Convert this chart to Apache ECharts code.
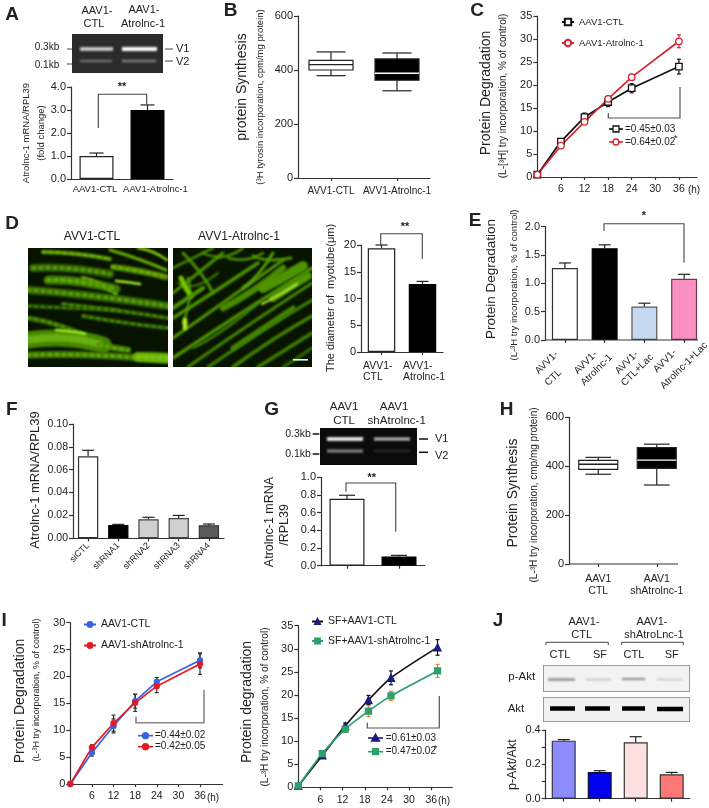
<!DOCTYPE html>
<html><head><meta charset="utf-8">
<style>html,body{margin:0;padding:0;background:#fff}#c{width:709px;height:808px;filter:blur(0.4px)}</style>
<script src="https://cdn.jsdelivr.net/npm/echarts@6/dist/echarts.min.js"></script>
</head><body><div id="c"></div>
<script>
// ---------- DATA ----------
const aCats=['AAV1-CTL','AAV1-Atrolnc-1'], aVals=[1.0,3.0], aTops=[1.13,3.22];
const bCats=['AVV1-CTL','AVV1-Atrolnc-1'];
const bBox=[[379,400,420,436,467],[323,362,388,441,463]];
const cHours=[0,6,12,18,24,36];
const cCtl=[0.5,7.7,13,16.3,19.3,24], cCtlErr=[0.2,0.4,0.9,1,1,1.6];
const cAtro=[0.5,6.8,12,17,21.7,29.5], cAtroErr=[0.2,0.3,0.5,0.7,0.6,1.4];
const dCats=['AVV1-\nCTL','AVV1-\nAtrolnc-1'], dVals=[19.4,12.7], dTops=[20,13.2];
const eCats=['AVV1-\nCTL','AVV1-\nAtrolnc-1','AVV1-\nCTL+Lac','AVV1-\nAtrolnc-1+Lac'];
const eVals=[1.27,1.62,0.59,1.08], eTops=[1.36,1.68,0.65,1.16];
const fCats=['siCTL','shRNA1','shRNA2','shRNA3','shRNA4'];
const fVals=[0.0717,0.0117,0.0166,0.0178,0.0114], fTops=[0.077,0.0122,0.0184,0.02,0.0125];
const gVals=[0.758,0.105], gTops=[0.797,0.117];
const hCats=['AAV1\nCTL','AAV1\nshAtrolnc-1'];
const hBox=[[367,387,408,424,436],[323,391,425,476,490]];
const iHours=[0,6,12,18,24,36];
const iCtl=[0,5.8,10.8,15.4,19,23], iCtlErr=[0,0.6,1.3,1.3,0.8,1.4];
const iSh=[0,6.8,11.3,15.1,18.2,22.3], iShErr=[0,0.5,1.5,1.6,1.2,1.9];
const i2Hours=[0,6.5,12.7,19,25.1,37.7];
const i2Ctl=[0.3,6.9,13.3,18.9,23.7,30.3], i2CtlErr=[0,0.5,0.6,1,1.5,1.7];
const i2Sh=[0.3,7.3,12.6,16.5,19.8,25.2], i2ShErr=[0,0.5,0.7,1.2,1,1.4];
const jCats=['','','',''], jVals=[0.338,0.155,0.328,0.142], jTops=[0.344,0.163,0.361,0.153];

// ---------- STYLE ----------
const FONT='"Liberation Sans",Arial,sans-serif', INK='#222';
const grids=[],xAxes=[],yAxes=[],series=[],legends=[],G=[];
const axisLine={lineStyle:{color:'#333',width:1.2}};
const axisTick={length:3,lineStyle:{color:'#333',width:1.2}};

function T(x,y,text,o={}){G.push({type:'text',x,y,rotation:o.deg?o.deg*Math.PI/180:(o.rot?Math.PI/2:0),silent:true,z:20,
 style:{text,fontSize:o.size||11,fontWeight:o.bold?'bold':'normal',fontFamily:FONT,fill:o.color||INK,
 textAlign:o.align||'center',textVerticalAlign:'middle'}});}
function P(points,o={}){G.push({type:'polyline',silent:true,z:o.z||15,shape:{points},
 style:{stroke:o.color||'#444',lineWidth:o.w||1,fill:null}});}
function paint(w,h,fn){const cv=document.createElement('canvas');cv.width=w;cv.height=h;fn(cv.getContext('2d'),w,h);return cv;}
function IMG(x,y,w,h,fn){G.push({type:'image',x,y,silent:true,z:5,style:{image:paint(w,h,fn),x:0,y:0,width:w,height:h}});}
function gelBand(c,x1,x2,y,t,col,b){c.save();c.filter='blur('+b+'px)';c.fillStyle=col;c.fillRect(x1,y-t/2,x2-x1,t);c.restore();}
function statIcon(x0,x1,y,color,kind,fill){
 P([[x0,y],[x1,y]],{color,w:1.6,z:16});const m=(x0+x1)/2;let el;
 const style={fill:fill,stroke:color,lineWidth:1.3};
 if(kind==='rect')el={type:'rect',shape:{x:m-3,y:y-3,width:6,height:6},style};
 if(kind==='circle')el={type:'circle',shape:{cx:m,cy:y,r:3},style};
 if(kind==='tri')el={type:'polygon',shape:{points:[[m,y-4],[m-4,y+3],[m+4,y+3]]},style};
 el.z=17;el.silent=true;G.push(el);}

function addGrid(left,top,width,height){grids.push({left,top,width,height,containLabel:false});return grids.length-1;}
function yAxis(g,max,interval,fmt,size,labelVals){const a={type:'value',gridIndex:g,min:0,max,interval,splitLine:{show:false},axisLine:{show:true,...axisLine},axisTick:{show:true,...axisTick,length:4},
 axisLabel:{fontSize:size||10.5,color:INK,margin:5,fontFamily:FONT,formatter:fmt}};
 if(labelVals)a.axisLabel.customValues=labelVals;yAxes.push(a);}
function catAxis(g,cats,o={}){xAxes.push({type:'category',gridIndex:g,data:cats,axisLine:{show:o.hideLine?false:true,...axisLine},
 axisTick:{show:o.ticks!==false,alignWithLabel:true,...axisTick},
 axisLabel:{show:o.labels!==false,interval:0,fontSize:o.size||9.5,color:INK,margin:o.margin||5,rotate:o.rotate||0,lineHeight:o.lh||12,fontFamily:FONT}});}
const o_z=4;
function errSeries(g,rows,color,cap,lw){series.push({type:'custom',name:'err'+series.length,xAxisIndex:g,yAxisIndex:g,z:o_z,clip:false,silent:true,
 data:rows,encode:{x:0,y:[1,2]},renderItem(p,api){const x=api.value(0),lo=api.coord([x,api.value(1)]),hi=api.coord([x,api.value(2)]);
  const st={stroke:color,lineWidth:lw||1.2,fill:null};
  return {type:'group',children:[
   {type:'line',shape:{x1:lo[0],y1:lo[1],x2:hi[0],y2:hi[1]},style:st},
   {type:'line',shape:{x1:hi[0]-cap,y1:hi[1],x2:hi[0]+cap,y2:hi[1]},style:st},
   ...(lo[1]-hi[1]>0&&rows[p.dataIndex][3]?[{type:'line',shape:{x1:lo[0]-cap,y1:lo[1],x2:lo[0]+cap,y2:lo[1]},style:st}]:[])]};}});}
function barPanel(g,vals,tops,fills,borders,bw,cap){
 series.push({type:'bar',xAxisIndex:g,yAxisIndex:g,barWidth:bw,silent:true,z:2,
  data:vals.map((v,i)=>({value:v,itemStyle:{color:fills[i],borderColor:borders[i],borderWidth:1.2}}))});
 errSeries(g,vals.map((v,i)=>[i,v,tops[i],0]),'#222',cap);}
function boxPanel(g,rows,fills,medians,bw){
 series.push({type:'custom',xAxisIndex:g,yAxisIndex:g,silent:true,z:3,clip:false,
  data:rows.map((r,i)=>[i,...r]),encode:{x:0,y:[1,2,3,4,5]},
  renderItem(p,api){const i=api.value(0),c=k=>api.coord([i,api.value(k)]),x=c(1)[0],h=bw/2,cap=bw*0.33;
   const low=c(1)[1],q1=c(2)[1],med=c(3)[1],q3=c(4)[1],up=c(5)[1];
   const line={stroke:'#333',lineWidth:1.3,fill:null};
   return {type:'group',children:[
    {type:'line',shape:{x1:x,y1:low,x2:x,y2:q1},style:line},{type:'line',shape:{x1:x,y1:q3,x2:x,y2:up},style:line},
    {type:'line',shape:{x1:x-cap,y1:low,x2:x+cap,y2:low},style:line},{type:'line',shape:{x1:x-cap,y1:up,x2:x+cap,y2:up},style:line},
    {type:'rect',shape:{x:x-h,y:q3,width:bw,height:q1-q3},style:{fill:fills[i],stroke:'#222',lineWidth:1.2}},
    {type:'line',shape:{x1:x-h,y1:med,x2:x+h,y2:med},style:{stroke:medians[i],lineWidth:1.3}}]};}});}
function timeAxes(g,xMax,yMax){
 const h=[6,12,18,24,30,36];
 xAxes.push({type:'value',gridIndex:g,min:0,max:xMax,splitLine:{show:false},axisLine:{show:true,...axisLine},
  axisTick:{show:true,...axisTick,customValues:h},axisLabel:{customValues:h,fontSize:10.5,color:INK,margin:7,fontFamily:FONT}});
 yAxis(g,yMax,5,v=>String(v),11);}
function linePanel(g,name,hours,vals,errs,lineColor,symbol,size,fill,border,errColor,smooth,cap){
 errSeries(g,hours.map((h,i)=>[h,vals[i]-errs[i],vals[i]+errs[i],1]),errColor,cap||2);
 series.push({type:'line',name,xAxisIndex:g,yAxisIndex:g,data:hours.map((h,i)=>[h,vals[i]]),silent:true,z:5,symbol,symbolSize:size,smooth:smooth||false,
  lineStyle:{color:lineColor,width:1.7},itemStyle:{color:fill,borderColor:border,borderWidth:1.3}});}
const f1=v=>v.toFixed(1), f2=v=>v.toFixed(2), f0=v=>String(v);

// ---------- PANEL A ----------
let g=addGrid(71,87,102,92);
catAxis(g,['',''],{ticks:false,labels:false});yAxis(g,4,1,f1,11);
barPanel(g,aVals,aTops,['#fff','#000'],['#222','#000'],34,7);
T(95,189,aCats[0],{size:9.5});T(155.5,189,aCats[1],{size:9.5});
T(12,15,'A',{size:19,bold:true});
T(97,11,'AAV1-');T(94,24,'CTL');T(144,10,'AAV1-');T(143,24,'Atrolnc-1');
IMG(72,34,91,39,(c,w,h)=>{c.fillStyle='#2b2b2b';c.fillRect(0,0,w,h);gelBand(c,8,41,15,3.5,'#d8d8d8',1);gelBand(c,50,85,15,4,'#ffffff',0.8);gelBand(c,8,40,27,2.5,'#6f6f6f',1);gelBand(c,50,84,27,2.5,'#7c7c7c',1);});
P([[67,49],[72,49]]);P([[67,64],[72,64]]);P([[165,49],[173,49]]);P([[165,61],[173,61]]);
T(47,47,'0.3kb',{size:10});T(47,65,'0.1kb',{size:10});T(176,49,'V1',{align:'left',size:11});T(176,62,'V2',{align:'left',size:11});
P([[98.3,128],[98.3,94.3],[146.7,94.3],[146.7,104]],{w:1.1});T(122,87,'**',{size:11,bold:true});
T(26,133,'Atrolnc-1 mRNA/RPL39',{rot:1,size:9.5});T(41,133,'(fold change)',{rot:1,size:9.5});

// ---------- PANEL B ----------
g=addGrid(298,16,132,162);
catAxis(g,bCats,{size:10,margin:7});yAxis(g,600,200,f0,11);
boxPanel(g,bBox,['#fff','#000'],['#222','#fff'],44);
T(230.5,11,'B',{size:19,bold:true});
T(242,87,'protein Synthesis',{rot:1,size:14});T(260,97,'(³H tyrosin incorporation, cpm/mg protein)',{rot:1,size:9.5});

// ---------- PANEL C ----------
g=addGrid(537.3,16,159.7,161);
timeAxes(g,40.6,35);
linePanel(g,'AAV1-CTL',cHours,cCtl,cCtlErr,'#111','rect',6.5,'#fff','#111','#111');
linePanel(g,'AAV1-Atrolnc-1',cHours,cAtro,cAtroErr,'#d8222f','circle',6.5,'#fff','#d8222f','#d8222f');
legends.push({data:['AAV1-CTL','AAV1-Atrolnc-1'],orient:'vertical',left:561,top:17,itemWidth:12,itemHeight:8,itemGap:11,padding:0,textStyle:{fontSize:9.5,color:INK,fontFamily:FONT},selectedMode:false});
T(477,11,'C',{size:19,bold:true});
T(486,93,'Protein Degradation',{rot:1,size:14});T(503,96,'(L-[³H] try incorporation, % of control)',{rot:1,size:10});
T(694,190,'(h)',{size:10});
P([[608.3,113],[608.3,118],[680,118],[680,87]],{color:'#555',w:1.2});
statIcon(609,623,129,'#111','rect','#fff');statIcon(609,623,142,'#d8222f','circle','#fff');
T(625,129,'=0.45±0.03',{align:'left',size:10});T(625,142,'=0.64±0.02',{align:'left',size:10});T(674,139,'*',{align:'left',size:9});

// ---------- PANEL D ----------
const fibL=[[15,4,45,4,82,11,4,'#5ea000'],[82,2,110,10,138,22,3,'#68ae00'],[5,20,40,18,82,26,8,'#2f6400'],[85,19,110,22,138,29,6,'#548f00'],
 [20,32,50,31,88,41,9,'#3f7c00'],[0,42,50,45,140,58,8,'#326a00'],[0,58,40,60,90,62,4,'#265600'],[35,56,90,62,140,70,4,'#306400'],
 [0,70,30,75,58,88,5,'#336c00'],[55,68,100,76,140,80,4,'#2f6400'],[0,92,40,86,75,97,17,'#458800'],[72,97,85,100,100,102,6,'#458800'],
 [0,107,60,105,140,112,7,'#3e7c00'],[110,109,125,109,140,110,10,'#68b000'],[28,82,50,84,57,86,2.5,'#a8f020'],[88,33,100,34,112,36,2.5,'#a8f020'],[110,0,125,2,139,12,2.5,'#8fd810'],[55,30,70,33,88,46,4,'#4e9000']];
const fibR=[[0,20,20,10,40,0,2.5,'#4e9400'],[0,45,25,25,50,5,3,'#4e9400'],[5,35,20,45,45,25,2,'#438600'],[0,70,40,45,85,15,3.5,'#4e9400'],[0,90,50,55,110,12,3,'#509a00'],
 [0,110,60,70,139,20,3.5,'#4e9400'],[15,119,70,80,139,35,3,'#468a00'],[35,119,85,85,139,52,3,'#438600'],[60,119,100,90,139,68,3.5,'#438600'],[85,119,115,100,139,85,3.5,'#3f8000'],
 [110,119,125,110,139,100,3,'#336c00'],[50,60,80,45,110,20,6.5,'#4a8c00'],[90,40,110,30,130,18,10,'#4e9400'],[100,50,115,40,135,28,8,'#509800'],[60,100,90,80,120,60,5,'#438600'],
 [10,5,30,25,40,45,3,'#4e9400'],[30,5,50,15,70,0,2.5,'#4e9400'],[55,10,75,15,90,5,2.5,'#4e9400'],[15,30,20,50,10,75,2.5,'#4e9400'],[8,30,12,40,18,48,5,'#78c400'],
 [89,56,105,48,124,36,2,'#c4f850'],[12,72,12,76,12,80,4.5,'#b8ee20'],[20,100,50,85,85,55,2.5,'#438600'],[0,60,15,50,30,40,4.5,'#4e9400'],[70,40,85,30,100,5,3,'#58a400'],[80,8,95,15,118,10,3,'#4e9400']];
function fibers(c,list,w,h,bg,dots){c.fillStyle=bg;c.fillRect(0,0,w,h);c.filter='blur(1.3px)';c.lineCap='round';
 for(const [a,b,d,e,f,k,lw,col] of list){c.strokeStyle=col;c.lineWidth=lw;c.beginPath();c.moveTo(a,b);c.quadraticCurveTo(d,e,f,k);c.stroke();
  if(dots&&lw>3){c.save();c.setLineDash([2,5]);c.strokeStyle='rgba(150,225,40,0.45)';c.lineWidth=lw*0.45;c.stroke();c.restore();}}
 c.filter='none';}
IMG(28,248,140,119,(c,w,h)=>fibers(c,fibL,w,h,'#081200',true));
IMG(173,248,139,119,(c,w,h)=>{fibers(c,fibR,w,h,'#081400',false);c.fillStyle='#f4f4f4';c.fillRect(120,111,15,1.6);});
T(12,224,'D',{size:19,bold:true});
T(92,237,'AVV1-CTL',{size:12});T(239,237,'AVV1-Atrolnc-1',{size:12});
g=addGrid(361,245,82,107);
catAxis(g,['',''],{labels:false});yAxis(g,20,5,f0,11);
barPanel(g,dVals,dTops,['#fff','#000'],['#222','#000'],27.5,6);
dCats.forEach((s,i)=>s.split('\n').forEach((l,k)=>T(i?403:363,366+k*11,l,{align:'left',size:10.5})));
P([[380.7,245],[380.7,233.7],[422.3,233.7],[422.3,259]],{w:1.1});T(405,227,'**',{size:11,bold:true});
T(330.7,298,'The diameter of  myotube(μm)',{rot:1,size:11});

// ---------- PANEL E ----------
g=addGrid(545,226.7,159,113.3);
catAxis(g,['','','',''],{hideLine:true,labels:false});yAxis(g,2,0.5,f1,11);
barPanel(g,eVals,eTops,['#fff','#000','#c5d9f1','#f990c0'],['#333','#000','#555','#6b3a50'],26,6);
P([[545,340],[698,340]],{color:'#333',w:1.2});
const eLabelPos=[[[546.7,362.7],[553.3,377.7]],[[585.7,362.7],[596.7,370]],[[626.7,362.7],[637.3,370]],[[665,361],[684,365.7]]];
eCats.forEach((s,i)=>s.split('\n').forEach((l,k)=>T(eLabelPos[i][k][0],eLabelPos[i][k][1],l,{deg:45,size:10})));
T(475,221,'E',{size:19,bold:true});
T(491.7,279,'Protein Degradation',{rot:1,size:13.5});T(514,285,'(L-³H try incorporation, % of control)',{rot:1,size:9.5});
P([[604,231],[604,223.7],[684,223.7],[684,262.7]],{w:1.1});T(644,216,'*',{size:11,bold:true});

// ---------- PANEL F ----------
g=addGrid(73,424,151,114.3);
catAxis(g,fCats,{rotate:45,size:9,margin:6});yAxis(g,0.1,0.02,f2,10.5);
barPanel(g,fVals,fTops,['#fff','#000','#d0d0d0','#d0d0d0','#5a5a5a'],['#333','#000','#444','#444','#333'],20.3,6);
T(11.7,410,'F',{size:19,bold:true});T(35,480,'Atrolnc-1 mRNA/RPL39',{rot:1,size:13});

// ---------- PANEL G ----------
g=addGrid(321,477.3,104,88.4);
catAxis(g,['',''],{labels:false});yAxis(g,1,0.2,f1,11);
barPanel(g,gVals,gTops,['#fff','#000'],['#222','#000'],35,8);
T(271.7,410,'G',{size:19,bold:true});
T(344,407,'AAV1',{size:11.5});T(344,420.7,'CTL',{size:11.5});T(394,407,'AAV1',{size:11.5});T(396.7,420.7,'shAtrolnc-1',{size:11.5});
IMG(320,428,97,37,(c,w,h)=>{c.fillStyle='#0b0b0b';c.fillRect(0,0,w,h);gelBand(c,7,43,11,3.5,'#ffffff',0.8);gelBand(c,54,90,11,3,'#bdbdbd',1);gelBand(c,7,43,23,3,'#8a8a8a',1);gelBand(c,54,90,23,2.5,'#2a2a2a',1.2);});
P([[312.7,434],[319.3,434]],{color:'#111',w:1.5});P([[312.7,454],[319.3,454]],{color:'#111',w:1.5});P([[419,439],[428,439]],{color:'#111',w:1.5});P([[419,452.3],[428,452.3]],{color:'#111',w:1.5});
T(298,434,'0.3kb',{size:10.5});T(298,454,'0.1kb',{size:10.5});T(435,439,'V1',{align:'left',size:11});T(435,456,'V2',{align:'left',size:11});
P([[346,491.7],[346,483],[395.7,483],[395.7,531.7]],{w:1.1});T(371.7,478,'**',{size:11,bold:true});
T(270,522,'Atrolnc-1 mRNA',{rot:1,size:12.5});T(285,525,'/RPL39',{rot:1,size:12.5});

// ---------- PANEL H ----------
g=addGrid(569,417.3,117,146.7);
catAxis(g,hCats,{hideLine:true,size:10.5,margin:9});yAxis(g,600,200,f0,11);
boxPanel(g,hBox,['#fff','#000'],['#222','#fff'],39);
P([[569,564],[678,564]],{color:'#333',w:1.2});
T(506.7,410,'H',{size:19,bold:true});
T(513,493,'Protein Synthesis',{rot:1,size:14});T(534,495,'(L-³H try incorporation, cmp/mg protein)',{rot:1,size:10});

// ---------- PANEL I (left) ----------
const BLUE='#3a62e0',RED='#e01b24',NAVY='#1a1a80',GREEN='#2e9e6e';
g=addGrid(70.3,622.7,152.4,161.3);
timeAxes(g,42.3,30);
linePanel(g,'AAV1-CTL ',iHours,iCtl,iCtlErr,BLUE,'circle',5,BLUE,BLUE,'#333');
linePanel(g,'AAV1-shAtrolnc-1',iHours,iSh,iShErr,RED,'circle',5,RED,RED,'#333');
legends.push({data:['AAV1-CTL ','AAV1-shAtrolnc-1'],orient:'vertical',left:83,top:619,itemWidth:12,itemHeight:6,itemGap:10,padding:0,textStyle:{fontSize:10.5,color:INK,fontFamily:FONT},selectedMode:false});
T(1.5,621,'I',{size:19,bold:true,align:'left'});
T(20,701,'Protein Degradation',{rot:1,size:14});T(37,690,'(L-³H try incorporation, % of control)',{rot:1,size:9});
T(213,798,'(h)',{size:10});
P([[136,716.7],[136,722.7],[204,722.7],[204,690]],{color:'#888',w:1.6});
statIcon(138,153,735.7,BLUE,'circle',BLUE);statIcon(138,153,746.7,RED,'circle',RED);
T(155,735.7,'=0.44±0.02',{align:'left',size:10});T(155,746.7,'=0.42±0.05',{align:'left',size:10});

// ---------- PANEL I (right) ----------
g=addGrid(298.3,625.7,154,161.6);
timeAxes(g,41.7,35);
linePanel(g,'SF+AAV1-CTL',i2Hours,i2Ctl,i2CtlErr,'#111','triangle',7,NAVY,NAVY,'#111',0.25);
linePanel(g,'SF+AAV1-shAtrolnc-1',i2Hours,i2Sh,i2ShErr,GREEN,'rect',6,GREEN,GREEN,'#e8842c',0.25);
legends.push({data:['SF+AAV1-CTL','SF+AAV1-shAtrolnc-1'],orient:'vertical',left:311,top:616,itemWidth:11,itemHeight:6,itemGap:8.5,padding:0,textStyle:{fontSize:10.5,color:INK,fontFamily:FONT},selectedMode:false});
T(246.7,702,'Protein degradation',{rot:1,size:14});T(265,707,'(L-³H try incorporation, % of control)',{rot:1,size:10});
T(444,801,'(h)',{size:10});
P([[367.3,722.7],[367.3,728],[439.3,728],[439.3,696]],{color:'#555',w:1.2});
statIcon(368,383,738,NAVY,'tri',NAVY);statIcon(368,383,751.7,GREEN,'rect',GREEN);
T(385.7,738,'=0.61±0.03',{align:'left',size:10});T(385.7,751.7,'=0.47±0.02',{align:'left',size:10});T(434,749,'*',{align:'left',size:9});

// ---------- PANEL J ----------
g=addGrid(545.7,730,144,68.7);
catAxis(g,jCats,{labels:false});yAxis(g,0.4,0.1,f1,11,[0,0.2,0.4]);
barPanel(g,jVals,jTops,['#8c8cff','#0000ee','#ffe0e0','#ff7878'],['#334','#113','#333','#333'],24,6);
T(498,621,'J',{size:19,bold:true});
T(584,621.7,'AAV1-');T(581.7,635,'CTL');T(652,621.7,'AAV1-');T(654,635,'shAtroLnc-1');
P([[546,645],[546,642.3],[608.3,642.3],[608.3,645]],{w:1});P([[621.7,645],[621.7,642.3],[683.3,642.3],[683.3,645]],{w:1});
T(560,655,'CTL');T(600,655,'SF');T(634,655,'CTL');T(671.7,655,'SF');
IMG(543,665,147,27,(c,w,h)=>{c.fillStyle='#f3f3f3';c.fillRect(0,0,w,h);c.strokeStyle='#999';c.strokeRect(0.5,0.5,w-1,h-1);gelBand(c,5,32,14.5,2,'#777',1);gelBand(c,43,68,14.5,1.6,'#bbb',1);gelBand(c,79,102,14,2,'#888',1);gelBand(c,114,140,14.5,1.6,'#c4c4c4',1.1);});
IMG(543,697,147,25,(c,w,h)=>{c.fillStyle='#f1f1f1';c.fillRect(0,0,w,h);c.strokeStyle='#999';c.strokeRect(0.5,0.5,w-1,h-1);gelBand(c,7,32,11.5,4.5,'#000',0.7);gelBand(c,42,67,11.5,4.5,'#000',0.7);gelBand(c,79,102,11.5,4.5,'#000',0.7);gelBand(c,114,140,12,4.5,'#000',0.7);});
T(521.7,677,'p-Akt',{size:11.5});T(516,709,'Akt',{size:11.5});
T(513,764.7,'p-Akt/Akt',{rot:1,size:12.5});

// ---------- RENDER ----------
const chart=echarts.init(document.getElementById('c'),null,{renderer:'canvas',width:709,height:808});
chart.setOption({animation:false,backgroundColor:'#fff',textStyle:{fontFamily:FONT},grid:grids,xAxis:xAxes,yAxis:yAxes,series,legend:legends,graphic:{elements:G}});
</script></body></html>
